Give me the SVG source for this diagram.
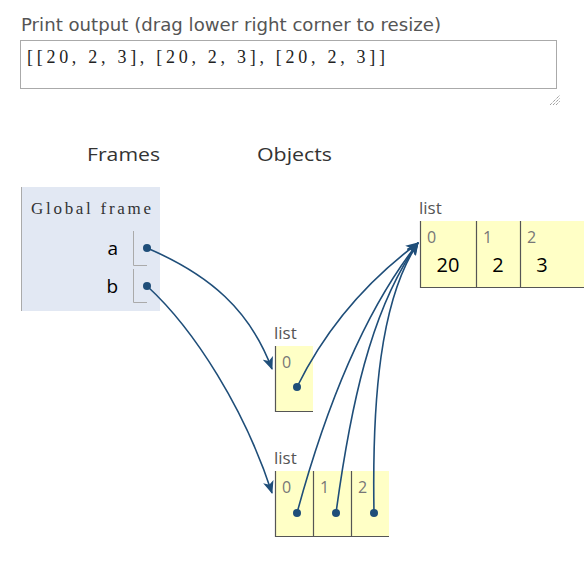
<svg xmlns="http://www.w3.org/2000/svg" width="584" height="569" viewBox="0 0 584 569">
<style>
.sans{font-family:"DejaVu Sans","Open Sans","Liberation Sans",sans-serif}
.os{font-family:"Open Sans","Noto Sans","Liberation Sans",sans-serif}
.lbl{font-size:17px;fill:#555}
.hdr{font-size:18px;fill:#333}
.serif{font-family:"Liberation Serif","DejaVu Serif",serif}
.var{font-size:19px;fill:#000}
.idx{font-size:16px;fill:#777}
.val{font-size:20px;fill:#000}
.typ{font-size:17px;fill:#555}
.cell{fill:#ffffc6}
.bd{stroke:#555;stroke-width:1.2;fill:none}
.fbd{stroke:#aaa;stroke-width:1;fill:none}
.arr{stroke:#1f4e79;stroke-width:1.6;fill:none;marker-end:url(#ah)}
.dot{fill:#1f4e79}
</style>
<defs>
<marker id="ah" viewBox="0 0 12 10" refX="11" refY="5" markerWidth="13" markerHeight="11" markerUnits="userSpaceOnUse" orient="auto">
<path d="M0,0 L12,5 L0,10 L3,5 Z" fill="#1f4e79"/>
</marker>
</defs>
<rect width="584" height="569" fill="#fff"/>
<g id="print-output">
<text class="sans lbl" x="21" y="31" textLength="420" lengthAdjust="spacingAndGlyphs">Print output (drag lower right corner to resize)</text>
<rect x="20.5" y="40.5" width="536" height="48" fill="#fff" stroke="#aaa"/>
<text class="serif" x="27" y="63" font-size="18" fill="#222" textLength="358" lengthAdjust="spacing">[[20, 2, 3], [20, 2, 3], [20, 2, 3]]</text>
<g stroke="#777" stroke-width="1" stroke-dasharray="1 1">
<line x1="550" y1="105" x2="560" y2="95"/>
<line x1="553" y1="105" x2="560" y2="98"/>
<line x1="556" y1="105" x2="560" y2="101"/>
</g>
</g>
<text class="os hdr" x="87" y="161" textLength="73" lengthAdjust="spacingAndGlyphs">Frames</text>
<text class="os hdr" x="257" y="161" textLength="75" lengthAdjust="spacingAndGlyphs">Objects</text>
<g id="global-frame">
<rect x="21" y="187" width="139" height="124" fill="#e2e8f3"/>
<line x1="21.5" y1="187" x2="21.5" y2="311" stroke="#aaa"/>
<text class="serif" x="31" y="214" font-size="17" fill="#333" textLength="120" lengthAdjust="spacing">Global frame</text>
<text class="os var" x="118" y="255" text-anchor="end">a</text>
<path class="fbd" d="M133.5,231 V265.5 H147"/>
<circle class="dot" cx="147" cy="248" r="4"/>
<text class="os var" x="118" y="293" text-anchor="end">b</text>
<path class="fbd" d="M133.5,269 V302.5 H147"/>
<circle class="dot" cx="147" cy="286" r="4"/>
</g>
<g id="list-big">
<text class="os typ" x="419" y="214">list</text>
<rect class="cell" x="420" y="221" width="164" height="66"/>
<path class="bd" d="M420.5,221 V287.5 H584 M476.5,221 V287 M520.5,221 V287"/>
<text class="os idx" x="427" y="243">0</text>
<text class="os idx" x="483" y="243">1</text>
<text class="os idx" x="527" y="243">2</text>
<text class="os val" x="448" y="272" text-anchor="middle">20</text>
<text class="os val" x="498" y="272" text-anchor="middle">2</text>
<text class="os val" x="542" y="272" text-anchor="middle">3</text>
</g>
<g id="list-mid">
<text class="os typ" x="274" y="339">list</text>
<rect class="cell" x="275" y="346" width="38" height="65"/>
<path class="bd" d="M275.5,346 V411.5 H313"/>
<text class="os idx" x="282" y="368">0</text>
<circle class="dot" cx="297" cy="387" r="4"/>
</g>
<g id="list-bottom">
<text class="os typ" x="274" y="464">list</text>
<rect class="cell" x="275" y="471" width="114" height="65"/>
<path class="bd" d="M275.5,471 V536.5 H389 M313.5,471 V536 M351.5,471 V536"/>
<text class="os idx" x="282" y="493">0</text>
<text class="os idx" x="320" y="493">1</text>
<text class="os idx" x="358" y="493">2</text>
<circle class="dot" cx="297" cy="513" r="4"/>
<circle class="dot" cx="336" cy="513" r="4"/>
<circle class="dot" cx="374" cy="513" r="4"/>
</g>
<g id="connectors">
<path class="arr" d="M147,248 C210,275 250,310 272,369"/>
<path class="arr" d="M147,286 C195,330 245,410 272,493"/>
<path class="arr" d="M297,387 C330,320 375,275 418,243"/>
<path class="arr" d="M297,513 C325,410 365,310 418,243"/>
<path class="arr" d="M336,513 C350,410 370,310 418,243"/>
<path class="arr" d="M374,513 C372,400 380,300 418,243"/>
</g>
</svg>
